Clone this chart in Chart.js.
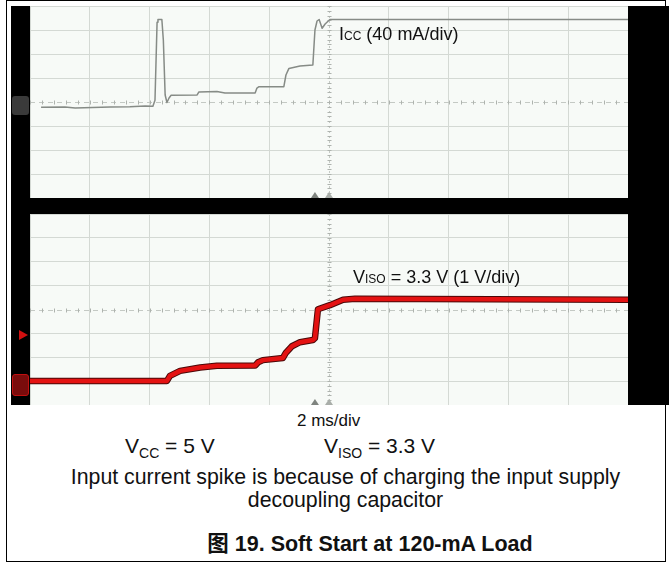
<!DOCTYPE html>
<html>
<head>
<meta charset="utf-8">
<script src="https://cdn.jsdelivr.net/npm/chart.js@4/dist/chart.umd.min.js"></script>
<style>
body { margin: 0; background: #fff; font-family: "Liberation Sans", Arial, "Noto Sans CJK SC", sans-serif; }
#page { position: relative; width: 669px; height: 565px; overflow: hidden; }
#frame { position: absolute; left: 6px; top: 0; width: 660px; height: 562px; border: 1px solid #000; box-sizing: border-box; }
#scope { position: absolute; left: 11px; top: 6px; width: 658px; height: 399px; background: #000; }
.plot { position: absolute; left: 30px; width: 598px; background: #f7faf7; }
#topBox { top: 6px; height: 192px; }
#botBox { top: 214px; height: 191px; }
.txt { position: absolute; white-space: nowrap; color: #111; }
.mark1 { position: absolute; left: 12px; top: 96px; width: 17px; height: 19px; background: #3a3a3a; border-radius: 3px; }
.markT { position: absolute; left: 19px; top: 330px; width: 0; height: 0; border-top: 5px solid transparent; border-bottom: 5px solid transparent; border-left: 9px solid #d01010; }
.markG { position: absolute; left: 12px; top: 374px; width: 17px; height: 22px; background: #7a0c0c; border: 1px solid #c01010; border-radius: 3px; box-sizing: border-box; }
</style>
</head>
<body>
<div id="page">
  <div id="frame"></div>
  <div id="scope"></div>
  <div class="mark1"></div>
  <div class="markT"></div>
  <div class="markG"></div>
  <div class="plot" id="topBox"><canvas id="iccChart"></canvas></div>
  <div class="plot" id="botBox"><canvas id="visoChart"></canvas></div>

  <div class="txt" style="left:339px; top:25px; font-size:18px; line-height:18px;">I<span style="font-size:12px;">CC</span> (40 mA/div)</div>
  <div class="txt" style="left:353px; top:268px; font-size:18px; line-height:18px;">V<span style="font-size:12px;">ISO</span> = 3.3 V (1 V/div)</div>

  <div class="txt" style="left:297px; top:412px; font-size:17px; line-height:17px;">2 ms/div</div>
  <div class="txt" style="left:125px; top:435px; font-size:21px; line-height:21px;">V<span style="font-size:14px; position:relative; top:5px;">CC</span> = 5 V</div>
  <div class="txt" style="left:324px; top:435px; font-size:21px; line-height:21px;">V<span style="font-size:14px; position:relative; top:5px;">ISO</span> = 3.3 V</div>
  <div class="txt" style="left:45px; width:601px; text-align:center; top:467px; font-size:21.3px; line-height:21px;">Input current spike is because of charging the input supply</div>
  <div class="txt" style="left:45px; width:601px; text-align:center; top:490px; font-size:21.3px; line-height:21px;">decoupling capacitor</div>
  <div class="txt" style="left:70px; width:600px; text-align:center; top:534px; font-size:21.5px; line-height:21px; font-weight:bold;">图 19. Soft Start at 120-mA Load</div>
</div>

<script>
// 2 ms/div, 10 divisions, trigger at centre
const timeRange = [-10, 10];
const timeStep = 2;

// channel 1: input current, 40 mA/div
const iccRange = [-160, 160];
const iccStep = 40;
const iccTimeMs = [-9.63, -8.83, -8.49, -7.32, -6.66, -6.15, -5.89, -5.82, -5.75, -5.72, -5.59, -5.54, -5.48, -5.42, -5.35, -5.28,
    -4.41, -4.35, -3.75, -3.48, -2.47, -2.41, -2.34, -1.51, -1.44, -1.34, -0.97, -0.54, -0.47, -0.40, -0.33, -0.23, -0.13, 0.03, 10];
const iccMa = [-8.8, -8.3, -10, -8.3, -7.8, -6.7, -7, 3, 133, 137.5, 137.5, 103, 11.7, -0.8, 6.7, 11.2,
    11.7, 16.7, 17.5, 15, 15, 23.3, 25.5, 25.5, 45, 56, 60, 61.7, 120, 135, 137.5, 123, 130, 137.5, 137.5];

// channel 2: isolated output, 1 V/div
const visoRange = [-1, 7];
const visoStep = 1;
const visoTimeMs = [-10, -5.42, -5.32, -4.98, -4.31, -3.75, -2.47, -2.37, -2.21, -1.54, -1.44, -1.24, -0.97, -0.54, -0.47, -0.37, 0.03, 0.47, 0.87, 10];
const visoV = [0.01, 0.01, 0.22, 0.43, 0.57, 0.64, 0.65, 0.79, 0.88, 0.97, 1.19, 1.46, 1.63, 1.72, 1.80, 3.01, 3.18, 3.41, 3.45, 3.41];

const gridColor = '#d4d9d4';

function toPoints(xs, ys) {
    return xs.map((x, i) => ({ x: x, y: ys[i] }));
}

// centre cross with minor ticks, and trigger markers on the lower edge
const scopeDecor = {
    id: 'scopeDecor',
    beforeDatasetsDraw(chart, args, opts) {
        const { ctx, chartArea: a, scales: { x, y } } = chart;
        const cx = Math.round(x.getPixelForValue(0)) + 0.5;
        const cy = Math.round(y.getPixelForValue(opts.yCenter)) + 0.5;
        ctx.save();
        ctx.strokeStyle = '#c4c9c4';
        ctx.lineWidth = 1;
        ctx.setLineDash([2, 3]);
        ctx.beginPath();
        ctx.moveTo(cx, a.top);
        ctx.lineTo(cx, a.bottom);
        ctx.stroke();
        ctx.setLineDash([5, 4]);
        ctx.beginPath();
        ctx.moveTo(a.left, cy);
        ctx.lineTo(a.right, cy);
        ctx.stroke();
        ctx.setLineDash([]);
        ctx.strokeStyle = '#aeb3ae';
        ctx.beginPath();
        for (let v = timeRange[0]; v <= timeRange[1] + 1e-6; v += timeStep / 5) {
            const px = Math.round(x.getPixelForValue(v)) + 0.5;
            ctx.moveTo(px, cy - 2);
            ctx.lineTo(px, cy + 2);
        }
        for (let v = opts.yMin; v <= opts.yMax + 1e-6; v += opts.yStep / 5) {
            const py = Math.round(y.getPixelForValue(v)) + 0.5;
            ctx.moveTo(cx - 2, py);
            ctx.lineTo(cx + 2, py);
        }
        ctx.stroke();
        ctx.restore();
    },
    afterDatasetsDraw(chart) {
        const { ctx, chartArea: a, scales: { x } } = chart;
        const marks = [[-0.47, '#7f847f'], [0, '#a9aea9']];
        ctx.save();
        marks.forEach(([t, c]) => {
            const px = x.getPixelForValue(t);
            ctx.fillStyle = c;
            ctx.beginPath();
            ctx.moveTo(px - 4, a.bottom);
            ctx.lineTo(px + 4, a.bottom);
            ctx.lineTo(px, a.bottom - 6);
            ctx.closePath();
            ctx.fill();
        });
        ctx.restore();
    }
};

function createScope(id, datasets, yRange, yStep, yCenter) {
    const ctx = document.getElementById(id).getContext('2d');
    return new Chart(ctx, {
        type: 'line',
        data: { datasets: datasets },
        options: {
            responsive: true,
            maintainAspectRatio: false,
            animation: false,
            layout: { padding: 0 },
            elements: { point: { radius: 0 }, line: { tension: 0 } },
            scales: {
                x: {
                    type: 'linear',
                    min: timeRange[0],
                    max: timeRange[1],
                    ticks: { stepSize: timeStep, display: false },
                    grid: { color: c => c.tick.value === 0 ? 'transparent' : gridColor, drawTicks: false },
                    border: { display: false }
                },
                y: {
                    type: 'linear',
                    min: yRange[0],
                    max: yRange[1],
                    ticks: { stepSize: yStep, display: false },
                    grid: { color: c => c.tick.value === yCenter ? 'transparent' : gridColor, drawTicks: false },
                    border: { display: false }
                }
            },
            plugins: {
                legend: { display: false },
                tooltip: { enabled: false },
                scopeDecor: { yCenter: yCenter, yMin: yRange[0], yMax: yRange[1], yStep: yStep }
            }
        },
        plugins: [scopeDecor]
    });
}

createScope('iccChart', [{
    label: 'ICC',
    data: toPoints(iccTimeMs, iccMa),
    borderColor: '#868b86',
    borderWidth: 1.5,
    borderJoinStyle: 'round'
}], iccRange, iccStep, 0);

createScope('visoChart', [{
    label: 'VISO',
    data: toPoints(visoTimeMs, visoV),
    borderColor: '#e41212',
    borderWidth: 4.5,
    borderJoinStyle: 'round',
    borderCapStyle: 'round',
    order: 0
}, {
    label: 'VISO edge',
    data: toPoints(visoTimeMs, visoV),
    borderColor: '#4a0808',
    borderWidth: 6.5,
    borderJoinStyle: 'round',
    borderCapStyle: 'round',
    order: 1
}], visoRange, visoStep, 3);
</script>
</body>
</html>
